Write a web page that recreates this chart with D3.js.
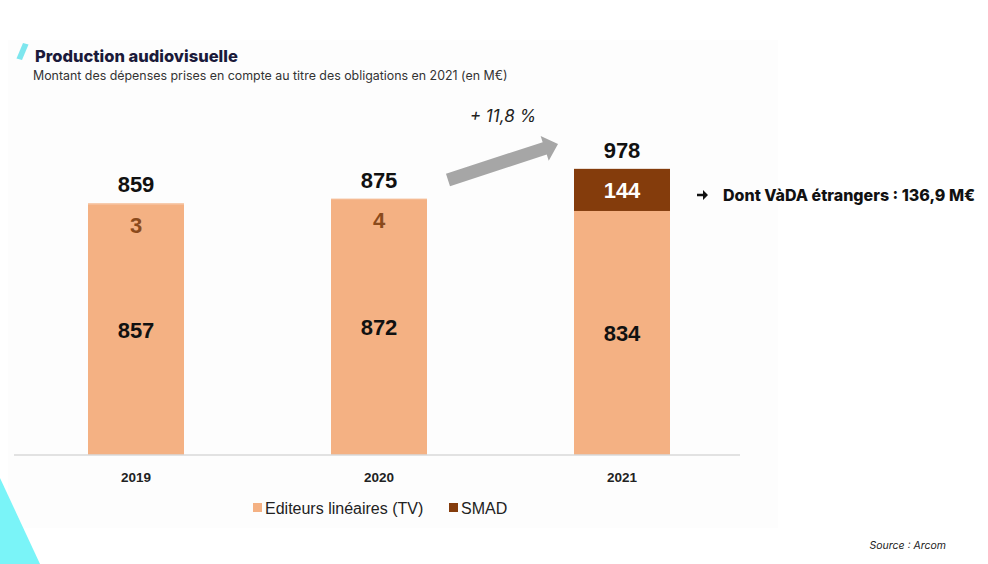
<!DOCTYPE html>
<html>
<head>
<meta charset="utf-8">
<script src="https://cdn.jsdelivr.net/npm/d3@7"></script>
<style>
  body { margin: 0; background: #fff; }
  svg { display: block; }
  .num { font-family: "Liberation Sans", Arial, sans-serif; font-weight: bold; }
</style>
</head>
<body>
<svg id="chart" width="988" height="564"></svg>
<script>
// data
var years = ["2019", "2020", "2021"];
var tvValues = [857, 872, 834];
var smadValues = [3, 4, 144];
var totals = [859, 875, 978];
var seriesNames = ["Editeurs linéaires (TV)", "SMAD"];
var growthLabel = "+ 11,8 %";
var vadaNote = "Dont VàDA étrangers : 136,9 M€";

var colTV = "#f4b183", colSMAD = "#843c0c";

var svg = d3.select("#chart");

// faint panel + decorations
svg.append("rect").attr("x", 8).attr("y", 40).attr("width", 770).attr("height", 488).attr("fill", "#fdfdfd");
svg.append("path").attr("d", "M0,478 L40,564 L0,564 Z").attr("fill", "#7af4f8");
svg.append("path").attr("d", "M23,43 L28.5,44.5 L22,60 L16.5,58.5 Z").attr("fill", "#7de6ee");

svg.append("text").attr("x", 35).attr("y", 62)
  .style("font-family", "Inter, sans-serif").style("font-weight", 800).style("font-size", "16.5px")
  .attr("fill", "#1b1a3a").text("Production audiovisuelle");
svg.append("text").attr("x", 33).attr("y", 80)
  .style("font-family", "Inter, sans-serif").style("font-size", "12.4px")
  .attr("fill", "#333").text("Montant des dépenses prises en compte au titre des obligations en 2021 (en M€)");

var baseY = 455;
var x = d3.scaleBand().domain(years).range([14.5, 743.5]).paddingInner(0.605).paddingOuter(0.3025);
var y = d3.scaleLinear().domain([0, 1000]).range([baseY, 162.4]);

var rows = years.map(function (yr, i) {
  return { year: yr, tv: tvValues[i], smad: smadValues[i], total: totals[i] };
});

var g = svg.append("g");

g.selectAll("rect.tv").data(rows).enter().append("rect")
  .attr("class", "tv")
  .attr("x", d => x(d.year)).attr("width", x.bandwidth())
  .attr("y", d => y(d.tv)).attr("height", d => y(0) - y(d.tv))
  .attr("fill", colTV);

g.selectAll("rect.smad").data(rows).enter().append("rect")
  .attr("class", "smad")
  .attr("x", d => x(d.year)).attr("width", x.bandwidth())
  .attr("y", d => y(d.tv + d.smad)).attr("height", d => y(d.tv) - y(d.tv + d.smad))
  .attr("fill", d => d.smad > 20 ? colSMAD : colTV);

// axis line
g.append("line").attr("x1", 14).attr("x2", 740).attr("y1", baseY).attr("y2", baseY)
  .attr("stroke", "#d9d9d9").attr("stroke-width", 1.5);

var xAxis = g.append("g").attr("transform", `translate(0,${baseY})`)
  .call(d3.axisBottom(x).tickSize(0).tickPadding(17));
xAxis.select(".domain").remove();
xAxis.selectAll(".tick text")
  .attr("class", "num").style("font-size", "13.5px").attr("fill", "#222");

var cx = d => x(d.year) + x.bandwidth() / 2;

// value labels
g.selectAll("text.tvv").data(rows).enter().append("text")
  .attr("class", "num").attr("text-anchor", "middle")
  .attr("x", cx).attr("y", d => (y(d.tv) + y(0)) / 2 + 8)
  .style("font-size", "22px").attr("fill", "#111").text(d => d.tv);

g.selectAll("text.smv").data(rows).enter().append("text")
  .attr("class", "num").attr("text-anchor", "middle")
  .attr("x", cx)
  .attr("y", d => d.smad > 20 ? (y(d.tv) + y(d.tv + d.smad)) / 2 + 8 : y(d.total) + 29)
  .style("font-size", "22px")
  .attr("fill", d => d.smad > 20 ? "#fff" : "#8a4a1c").text(d => d.smad);

g.selectAll("text.tot").data(rows).enter().append("text")
  .attr("class", "num").attr("text-anchor", "middle")
  .attr("x", cx).attr("y", d => y(d.tv + d.smad) - 11)
  .style("font-size", "22px").attr("fill", "#111").text(d => d.total);

// growth arrow between 2020 and 2021
var ax0 = x("2020") + x.bandwidth() + 21, ay0 = 180;
var ax1 = x("2021") - 16, ay1 = 144;
var ang = Math.atan2(ay1 - ay0, ax1 - ax0);
var len = Math.hypot(ax1 - ax0, ay1 - ay0);
var arrow = g.append("g").attr("transform", `translate(${ax0},${ay0}) rotate(${ang * 180 / Math.PI})`);
arrow.append("path")
  .attr("d", `M0,-6.5 L${len - 14},-6.5 L${len - 14},-13 L${len},0 L${len - 14},13 L${len - 14},6.5 L0,6.5 Z`)
  .attr("fill", "#a6a6a6");

svg.append("text").attr("x", 503).attr("y", 122).attr("text-anchor", "middle")
  .style("font-family", "Inter, sans-serif").style("font-style", "italic").style("font-size", "17px")
  .attr("fill", "#222").text(growthLabel);

// note on the right
var na = svg.append("g").attr("transform", "translate(697,195)");
na.append("path").attr("d", "M0,-1.3 L6,-1.3 L6,-5 L11,0 L6,5 L6,1.3 L0,1.3 Z").attr("fill", "#111");
svg.append("text").attr("x", 723).attr("y", 200.5)
  .style("font-family", "Inter, sans-serif").style("font-weight", 800).style("font-size", "16px")
  .attr("fill", "#111").text(vadaNote);

// legend
var legend = svg.append("g").attr("transform", "translate(253,503)");
var legX = [0, 196];
seriesNames.forEach(function (name, i) {
  var lg = legend.append("g").attr("transform", `translate(${legX[i]},0)`);
  lg.append("rect").attr("width", 9).attr("height", 9).attr("fill", i === 0 ? colTV : colSMAD);
  lg.append("text").attr("x", 12).attr("y", 10.5)
    .style("font-family", "Liberation Sans, Arial, sans-serif").style("font-size", "16px")
    .attr("fill", "#222").text(name);
});

svg.append("text").attr("x", 946).attr("y", 549).attr("text-anchor", "end")
  .style("font-family", "Inter, sans-serif").style("font-style", "italic").style("font-size", "10.5px")
  .attr("fill", "#222").text("Source : Arcom");
</script>
</body>
</html>
